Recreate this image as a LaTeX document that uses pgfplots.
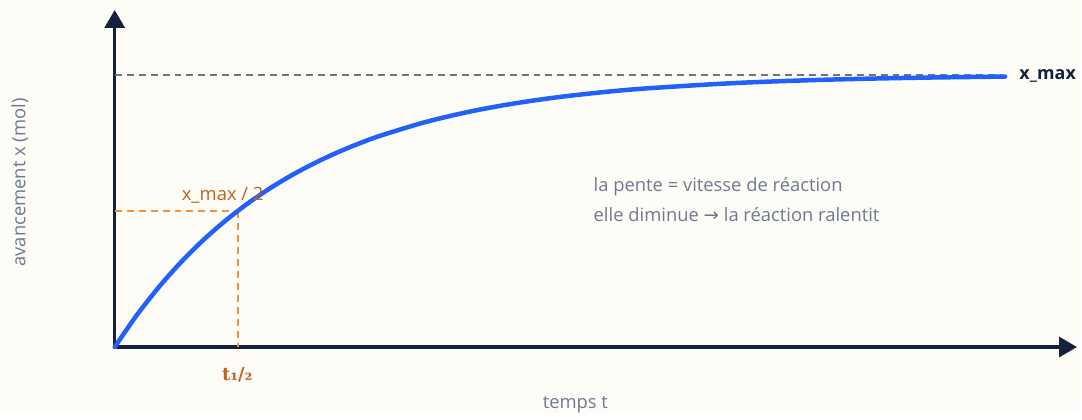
\documentclass[border=0pt]{standalone}
\usepackage{fontspec}
\setmainfont{Open Sans}
\newfontfamily\symfont{DejaVu Sans}
\newfontfamily\subfont{DejaVu Serif}
\usepackage{pgfplots}
\pgfplotsset{compat=1.18}
\usetikzlibrary{arrows.meta}

\definecolor{bg}{HTML}{FDFCF7}
\definecolor{navy}{HTML}{13223A}
\definecolor{curve}{HTML}{2160FA}
\definecolor{slate}{HTML}{6E7B8F}
\definecolor{dashgrey}{HTML}{6B7585}
\definecolor{orangeline}{HTML}{F7903C}
\definecolor{orangetxt}{HTML}{C45F1C}

\begin{document}
\begin{tikzpicture}[x=1bp,y=1bp]
  \fill[bg] (0,0) rectangle (1082,414);

  \begin{axis}[
      at={(115bp,66bp)}, anchor=origin,
      scale only axis,
      width=965bp, height=338bp,
      xmin=0, xmax=10.84,
      ymin=0, ymax=1.238,
      axis lines=left,
      axis line style={line width=3.5bp, navy, -{Triangle[length=18bp,width=20bp]}},
      xtick=\empty, ytick=\empty,
      clip=false,
    ]

    % x_max asymptote
    \addplot[dashgrey, line width=2bp, dash pattern=on 7bp off 5bp]
      coordinates {(0,1) (10,1)};

    % half-time guides
    \addplot[orangeline, line width=2bp, dash pattern=on 7bp off 5bp]
      coordinates {(0,0.5) (1.386,0.5)};
    \addplot[orangeline, line width=2bp, dash pattern=on 7bp off 5bp]
      coordinates {(1.386,0.5) (1.386,0)};

    % avancement
    \addplot[curve, line width=4.5bp, smooth, line cap=round]
      coordinates {
        (0,0) (0.25,0.1175) (0.5,0.2212) (0.75,0.3127) (1,0.3935)
        (1.25,0.4647) (1.5,0.5276) (1.75,0.5831) (2,0.6321) (2.25,0.6753)
        (2.5,0.7135) (2.75,0.7472) (3,0.7769) (3.5,0.8262) (4,0.8647)
        (4.5,0.8946) (5,0.9179) (5.5,0.9361) (6,0.9502) (7,0.9698)
        (8,0.9817) (9,0.9889) (10.03,0.9933)
      };
  \end{axis}

  \fontsize{18.5}{22}\selectfont
  \node[slate, rotate=90] at (20,231) {avancement x (mol)};
  \node[slate] at (577,8) {temps t};
  \node[navy, font=\fontsize{18}{22}\selectfont\bfseries, anchor=west] at (1016,338) {x\_max};
  \node[orangetxt, anchor=west] at (176,218) {x\_max / 2};
  \node[orangetxt, font=\fontsize{18}{22}\subfont\bfseries] at (238,38) {t₁/₂};
  \node[slate, anchor=west] at (589,227) {la pente = vitesse de réaction};
  \node[slate, anchor=west] at (589,199) {elle diminue {\symfont →} la réaction ralentit};
\end{tikzpicture}
\end{document}
